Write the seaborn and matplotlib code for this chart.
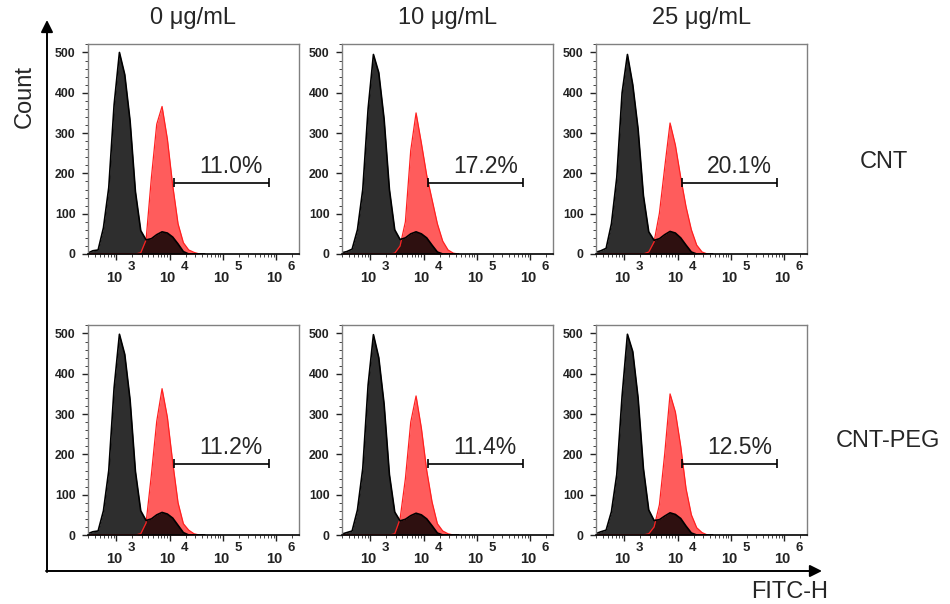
import numpy as np
import seaborn as sns
import matplotlib.pyplot as plt
from matplotlib.ticker import FixedLocator, LogLocator, NullFormatter, MultipleLocator

# log10(FITC-H) bin centres shared by every histogram
log_fitc = [2.36, 2.46, 2.56, 2.66, 2.76, 2.86, 2.96, 3.06, 3.16, 3.26, 3.36, 3.46,
            3.56, 3.66, 3.76, 3.86, 3.96, 4.06, 4.16, 4.26, 4.36, 4.46, 4.56, 4.66]

# control (black) counts, panels in reading order
ctrl_cnt_0 = [0, 2, 8, 10, 65, 165, 370, 500, 445, 330, 155, 58, 35, 38, 48, 55, 52, 42, 25, 6, 0, 0, 0, 0]
ctrl_cnt_10 = [0, 3, 6, 12, 60, 160, 360, 495, 450, 335, 160, 60, 36, 40, 50, 55, 50, 40, 22, 5, 0, 0, 0, 0]
ctrl_cnt_25 = [0, 4, 8, 14, 75, 190, 400, 495, 420, 310, 145, 55, 34, 38, 48, 56, 52, 40, 22, 5, 0, 0, 0, 0]
ctrl_peg_0 = [0, 3, 8, 10, 60, 160, 365, 498, 448, 335, 158, 60, 36, 40, 50, 56, 52, 42, 24, 6, 0, 0, 0, 0]
ctrl_peg_10 = [0, 2, 6, 10, 62, 165, 372, 497, 440, 325, 150, 57, 35, 39, 48, 54, 50, 40, 23, 5, 0, 0, 0, 0]
ctrl_peg_25 = [0, 3, 8, 12, 58, 150, 345, 498, 455, 340, 165, 62, 36, 38, 47, 55, 51, 41, 22, 5, 0, 0, 0, 0]

# treated (red) counts
trt_cnt_0 = [0, 0, 0, 0, 0, 0, 0, 0, 0, 0, 0, 3, 35, 190, 322, 366, 285, 170, 75, 28, 10, 4, 0, 0]
trt_cnt_10 = [0, 0, 0, 0, 0, 0, 0, 0, 0, 0, 0, 2, 20, 80, 257, 350, 275, 195, 135, 75, 32, 10, 2, 0]
trt_cnt_25 = [0, 0, 0, 0, 0, 0, 0, 0, 0, 0, 0, 5, 30, 101, 215, 325, 270, 190, 117, 60, 22, 5, 0, 0]
trt_peg_0 = [0, 0, 0, 0, 0, 0, 0, 0, 0, 0, 0, 3, 30, 150, 282, 363, 292, 180, 80, 28, 12, 3, 0, 0]
trt_peg_10 = [0, 0, 0, 0, 0, 0, 0, 0, 0, 0, 0, 3, 40, 140, 280, 345, 265, 160, 82, 28, 10, 3, 0, 0]
trt_peg_25 = [0, 0, 0, 0, 0, 0, 0, 0, 0, 0, 0, 3, 20, 75, 202, 350, 305, 220, 115, 50, 18, 6, 0, 0]

conc_labels = ["0 μg/mL", "10 μg/mL", "25 μg/mL"]
row_labels = ["CNT", "CNT-PEG"]
percents = [["11.0%", "17.2%", "20.1%"], ["11.2%", "11.4%", "12.5%"]]

# gate marker (log10 limits) and count level
gate_lo, gate_hi, gate_y = 4.09, 5.86, 177
decades = [3, 4, 5, 6]

ctrl = [[ctrl_cnt_0, ctrl_cnt_10, ctrl_cnt_25], [ctrl_peg_0, ctrl_peg_10, ctrl_peg_25]]
trt = [[trt_cnt_0, trt_cnt_10, trt_cnt_25], [trt_peg_0, trt_peg_10, trt_peg_25]]

sns.set_style("ticks")
plt.rcParams["font.family"] = ["Liberation Sans", "DejaVu Sans"]

W, H = 950, 604
fig = plt.figure(figsize=(W / 100, H / 100), dpi=100)

fitc = 10 ** np.array(log_fitc)
lefts = [88, 342, 596]
tops = [44, 325]
pw, ph = 211, 210

for r in range(2):
    for c in range(3):
        ax = fig.add_axes([lefts[c] / W, 1 - (tops[r] + ph) / H, pw / W, ph / H])
        ax.set_xscale("log")

        red = np.array(trt[r][c])
        blk = np.array(ctrl[r][c])
        ax.fill_between(fitc, red, color="#ff0000", alpha=0.64, lw=0)
        sns.lineplot(x=fitc, y=red, color="#ff2020", lw=0.9, ax=ax)
        ax.fill_between(fitc, blk, color="black", alpha=0.82, lw=0)
        sns.lineplot(x=fitc, y=blk, color="black", lw=1.2, ax=ax)

        # gate bracket
        ax.hlines(gate_y, 10 ** gate_lo, 10 ** gate_hi, color="black", lw=1.2)
        ax.vlines([10 ** gate_lo, 10 ** gate_hi], gate_y - 11, gate_y + 11,
                  color="black", lw=1.2)
        ax.text(10 ** 5.16, gate_y + 39, percents[r][c], ha="center", va="center",
                fontsize=16.5)

        ax.set_xlim(10 ** 2.47, 10 ** 6.43)
        ax.set_ylim(0, 521)
        ax.set_xlabel("")
        ax.set_ylabel("")

        ax.xaxis.set_major_locator(FixedLocator([10.0 ** d for d in decades]))
        ax.xaxis.set_minor_locator(LogLocator(base=10, subs=np.arange(2, 10)))
        ax.xaxis.set_major_formatter(NullFormatter())
        ax.xaxis.set_minor_formatter(NullFormatter())
        for d in decades:
            ax.annotate("10", xy=(10.0 ** d, 0), xycoords=("data", "axes fraction"),
                        xytext=(-1.4, -17.5), textcoords="offset points",
                        ha="center", va="center", fontsize=10.5, fontweight="bold",
                        color="#222222")
            ax.annotate(str(d), xy=(10.0 ** d, 0), xycoords=("data", "axes fraction"),
                        xytext=(10.8, -9.6), textcoords="offset points",
                        ha="center", va="center", fontsize=9.5, fontweight="bold",
                        color="#222222")

        ax.set_yticks(range(0, 501, 100))
        ax.yaxis.set_minor_locator(MultipleLocator(20))
        ax.tick_params(axis="y", which="major", length=4.5, width=1, pad=4.5,
                       labelsize=8.8, colors="#222222")
        ax.tick_params(axis="y", which="minor", length=2.2, width=0.7, colors="#444444")
        ax.tick_params(axis="x", which="major", length=4.5, width=1, colors="#222222")
        ax.tick_params(axis="x", which="minor", length=2.5, width=0.7, colors="#444444")
        for lab in ax.get_yticklabels():
            lab.set_fontweight("bold")

        for side in ["top", "right", "left"]:
            ax.spines[side].set_color("#808080")
            ax.spines[side].set_linewidth(1.0)
        ax.spines["bottom"].set_color("black")
        ax.spines["bottom"].set_linewidth(1.2)

# column and row headers
for c in range(3):
    fig.text((lefts[c] + pw / 2) / W, 1 - 18 / H, conc_labels[c],
             ha="center", va="center", fontsize=17)
fig.text(884 / W, 1 - 162 / H, row_labels[0], ha="center", va="center", fontsize=17)
fig.text(888 / W, 1 - 441 / H, row_labels[1], ha="center", va="center", fontsize=17)

# outer axis arrows
arrow = dict(arrowstyle="-|>,head_length=0.6,head_width=0.3", mutation_scale=12,
             lw=1.4, color="black", shrinkA=0, shrinkB=0)
fig.add_artist(plt.Annotation("", xy=(47, H - 20), xytext=(47, H - 572),
                              xycoords="figure pixels", textcoords="figure pixels",
                              arrowprops=arrow))
fig.add_artist(plt.Annotation("", xy=(822, H - 571), xytext=(46, H - 571),
                              xycoords="figure pixels", textcoords="figure pixels",
                              arrowprops=arrow))
fig.text(25 / W, 1 - 97 / H, "Count", rotation=90, ha="center", va="center", fontsize=17)
fig.text(790 / W, 1 - 592 / H, "FITC-H", ha="center", va="center", fontsize=17)

fig.savefig("out.png", dpi=100)
